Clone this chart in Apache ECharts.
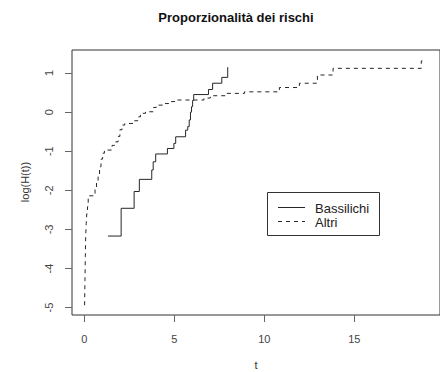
<!DOCTYPE html>
<html>
<head>
<meta charset="utf-8">
<script src="https://cdn.jsdelivr.net/npm/echarts@6/dist/echarts.min.js"></script>
<style>
  html, body { margin: 0; padding: 0; background: #fff; }
  #chart { width: 440px; height: 372px; }
</style>
</head>
<body>
<div id="chart"></div>
<script>
// ---- data ----
const seriesNames = ['Bassilichi', 'Altri'];
const bassT = [1.32, 2.05, 2.77, 3.06, 3.75, 3.83, 3.97, 4.62, 4.98, 5.08, 5.63, 5.75, 5.83, 5.90, 5.96, 6.02, 6.08, 6.90, 7.13, 7.64, 7.97];
const bassV = [-3.17, -2.46, -2.03, -1.72, -1.48, -1.27, -1.07, -0.93, -0.80, -0.63, -0.46, -0.37, -0.20, 0.00, 0.14, 0.30, 0.45, 0.58, 0.74, 0.89, 1.15];
const altT = [0.02, 0.04, 0.06, 0.08, 0.11, 0.14, 0.18, 0.22, 0.60, 0.68, 0.77, 0.85, 0.93, 1.02, 1.12, 1.55, 1.75, 1.88, 1.98, 2.10, 2.25, 2.80, 2.98, 3.12, 3.40, 3.85, 4.00, 4.35, 4.70, 5.07, 6.65, 7.00, 7.90, 8.90, 10.84, 11.95, 12.95, 13.82, 18.72, 18.95];
const altV = [-4.94, -4.30, -3.70, -3.20, -2.85, -2.60, -2.42, -2.14, -1.95, -1.80, -1.62, -1.40, -1.20, -1.05, -0.97, -0.85, -0.76, -0.62, -0.45, -0.33, -0.29, -0.22, -0.12, -0.03, 0.01, 0.12, 0.18, 0.22, 0.27, 0.31, 0.36, 0.42, 0.48, 0.52, 0.63, 0.74, 0.95, 1.12, 1.31, 1.31];
const xTicks = [0, 5, 10, 15];
const yTicks = [-5, -4, -3, -2, -1, 0, 1];
const titleText = 'Proporzionalità dei rischi';
const xName = 't';
const yName = 'log(H(t))';

const FONT = '"Liberation Sans", Arial, sans-serif';
const pairs = (t, v) => t.map((x, i) => [x, v[i]]);
const LINE = '#262626';

const chart = echarts.init(document.getElementById('chart'), null, { renderer: 'svg' });
chart.setOption({
  animation: false,
  backgroundColor: '#fff',
  grid: { left: 72, right: -4, top: 50, bottom: 57, show: true, borderColor: '#333', borderWidth: 1, backgroundColor: 'transparent' },
  xAxis: {
    type: 'value', min: -0.68, max: 19.76,
    axisLine: { show: false, onZero: false },
    splitLine: { show: false },
    axisTick: { show: true, length: 7, customValues: xTicks, lineStyle: { color: '#666', width: 1 } },
    axisLabel: { customValues: xTicks, margin: 18, fontSize: 11, color: '#444', fontFamily: FONT }
  },
  yAxis: {
    type: 'value', min: -5.19, max: 1.59,
    axisLine: { show: false, onZero: false },
    splitLine: { show: false },
    axisTick: { show: true, length: 7, customValues: yTicks, lineStyle: { color: '#666', width: 1 } },
    axisLabel: { customValues: yTicks, rotate: 90, margin: 18, fontSize: 11, color: '#444', fontFamily: FONT }
  },
  graphic: [
    { type: 'text', x: 236, y: 17, style: { text: titleText, font: 'bold 13px ' + FONT, fill: '#111', textAlign: 'center', textVerticalAlign: 'middle' } },
    { type: 'text', x: 256, y: 365, style: { text: xName, font: '11px ' + FONT, fill: '#333', textAlign: 'center', textVerticalAlign: 'middle' } },
    { type: 'text', x: 25, y: 182, rotation: Math.PI / 2, style: { text: yName, font: '11px ' + FONT, fill: '#333', textAlign: 'center', textVerticalAlign: 'middle' } },
    // legend box
    { type: 'rect', shape: { x: 267.5, y: 192.5, width: 112, height: 43 }, style: { fill: '#fff', stroke: '#333', lineWidth: 1 }, z: 10 },
    { type: 'line', shape: { x1: 278, y1: 207.5, x2: 305, y2: 207.5 }, style: { stroke: LINE, lineWidth: 1 }, z: 11 },
    { type: 'line', shape: { x1: 278, y1: 221.5, x2: 305, y2: 221.5 }, style: { stroke: LINE, lineWidth: 1, lineDash: [4, 4] }, z: 11 },
    { type: 'text', x: 315, y: 208, style: { text: seriesNames[0], font: '13px ' + FONT, fill: '#222', textAlign: 'left', textVerticalAlign: 'middle' }, z: 11 },
    { type: 'text', x: 315, y: 222, style: { text: seriesNames[1], font: '13px ' + FONT, fill: '#222', textAlign: 'left', textVerticalAlign: 'middle' }, z: 11 }
  ],
  series: [
    { name: seriesNames[0], type: 'line', step: 'end', symbol: 'none', showSymbol: false, data: pairs(bassT, bassV),
      lineStyle: { color: LINE, width: 1, type: 'solid' }, itemStyle: { color: LINE } },
    { name: seriesNames[1], type: 'line', step: 'end', symbol: 'none', showSymbol: false, data: pairs(altT, altV),
      lineStyle: { color: LINE, width: 1, type: [4, 4] }, itemStyle: { color: LINE } }
  ]
});
</script>
</body>
</html>
